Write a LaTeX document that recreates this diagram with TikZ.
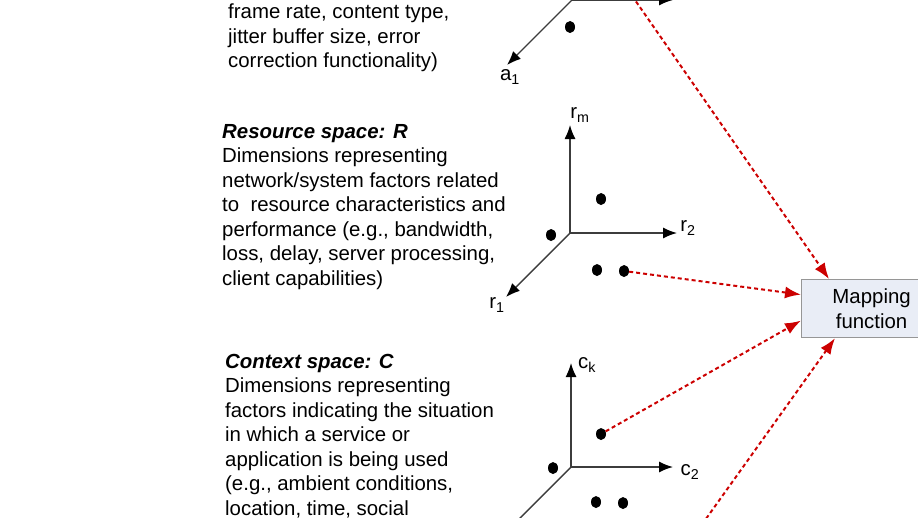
\documentclass[tikz,border=0pt]{standalone}
\usepackage{fontspec}
\setmainfont{Liberation Sans}
\usetikzlibrary{arrows.meta,shapes.geometric}
\definecolor{linkred}{RGB}{204,0,0}
\definecolor{axisgray}{RGB}{60,60,60}
\definecolor{boxfill}{RGB}{233,237,246}
\definecolor{boxline}{RGB}{150,150,150}
\tikzset{%
  axis/.style={draw=axisgray, line width=1.4pt, -{Latex[length=14pt,width=11pt,color=black]}},%
  link/.style={draw=linkred, line width=2pt, dash pattern=on 4pt off 3pt, -{Latex[length=16pt,width=12pt]}},%
  sample/.style={ellipse, fill=black, inner sep=0pt, minimum width=10pt, minimum height=12pt},%
  axlabel/.style={inner sep=0pt},%
  desc/.style={align=left, anchor=north west, inner sep=0pt},%
}
\begin{document}
\begin{tikzpicture}[x=1pt, y=-1pt, font=\fontsize{20.4}{24.5}\selectfont]%
  \useasboundingbox (0,0) rectangle (918,517);%
  \clip (0,0) rectangle (918,517);%
  % descriptions
  \node [desc] (atext) at (228,4) {frame rate, content type,\\jitter buffer size, error\\correction functionality)};%
  \node [desc] (rtext) at (222,124) {\textbf{\textit{Resource space: R}}\\Dimensions representing\\network/system factors related\\to\ \ resource characteristics and\\performance (e.g., bandwidth,\\loss, delay, server processing,\\client capabilities)};%
  \node [desc] (ctext) at (225,354) {\textbf{\textit{Context space: C}}\\Dimensions representing\\factors indicating the situation\\in which a service or\\application is being used\\(e.g., ambient conditions,\\location, time, social};%
  % mapping box
  \node [draw=boxline, line width=1.2pt, fill=boxfill, minimum width=140pt, minimum height=58pt, align=center, anchor=north west, inner sep=0pt] (map) at (801,279) {Mapping\\function};%
  % application axes
  \coordinate (ao) at (572,0);%
  \coordinate (a1) at (507,65);%
  \coordinate (a2) at (673,0);%
  \draw [axis] (ao) -- (a1);%
  \draw [axis] (ao) -- (a2);%
  \node [axlabel] (a1 lab) at (510,77) {a\textsubscript{1}};%
  \node [axlabel] (a2 lab) at (691,-7) {a\textsubscript{2}};%
  \node [sample] (ad1) at (570,27) {};%
  % resource axes
  \coordinate (ro) at (570,233);%
  \coordinate (r1) at (506,297);%
  \coordinate (r2) at (677,233);%
  \coordinate (rm) at (570,125);%
  \draw [axis] (ro) -- (r1);%
  \draw [axis] (ro) -- (r2);%
  \draw [axis] (ro) -- (rm);%
  \node [axlabel] (r1 lab) at (497,305) {r\textsubscript{1}};%
  \node [axlabel] (r2 lab) at (688,228) {r\textsubscript{2}};%
  \node [axlabel] (rm lab) at (580,115) {r\textsubscript{m}};%
  \node [sample] (rd1) at (601,199) {};%
  \node [sample] (rd2) at (551,235) {};%
  \node [sample] (rd3) at (597,270) {};%
  \node [sample] (rd4) at (624,271) {};%
  % context axes
  \coordinate (co) at (571,467);%
  \coordinate (c1) at (491,547);%
  \coordinate (c2) at (673,467);%
  \coordinate (ck) at (571,363);%
  \draw [axis] (co) -- (c1);%
  \draw [axis] (co) -- (c2);%
  \draw [axis] (co) -- (ck);%
  \node [axlabel] (c2 lab) at (690,472) {c\textsubscript{2}};%
  \node [axlabel] (ck lab) at (587,365) {c\textsubscript{k}};%
  \node [sample] (cd1) at (601,434) {};%
  \node [sample] (cd2) at (553,468) {};%
  \node [sample] (cd3) at (596,502) {};%
  \node [sample] (cd4) at (623,503) {};%
  % links into the mapping function
  \coordinate (a src) at (628,-10);%
  \coordinate (c src) at (698,530);%
  \draw [link] (a src) -- ([xshift=28pt]map.north west);%
  \draw [link] (rd4) -- ([yshift=14pt]map.west);%
  \draw [link] (cd1) -- ([yshift=-12pt]map.west);%
  \draw [link] (c src) -- ([xshift=34pt]map.south west);%
\end{tikzpicture}
\end{document}
